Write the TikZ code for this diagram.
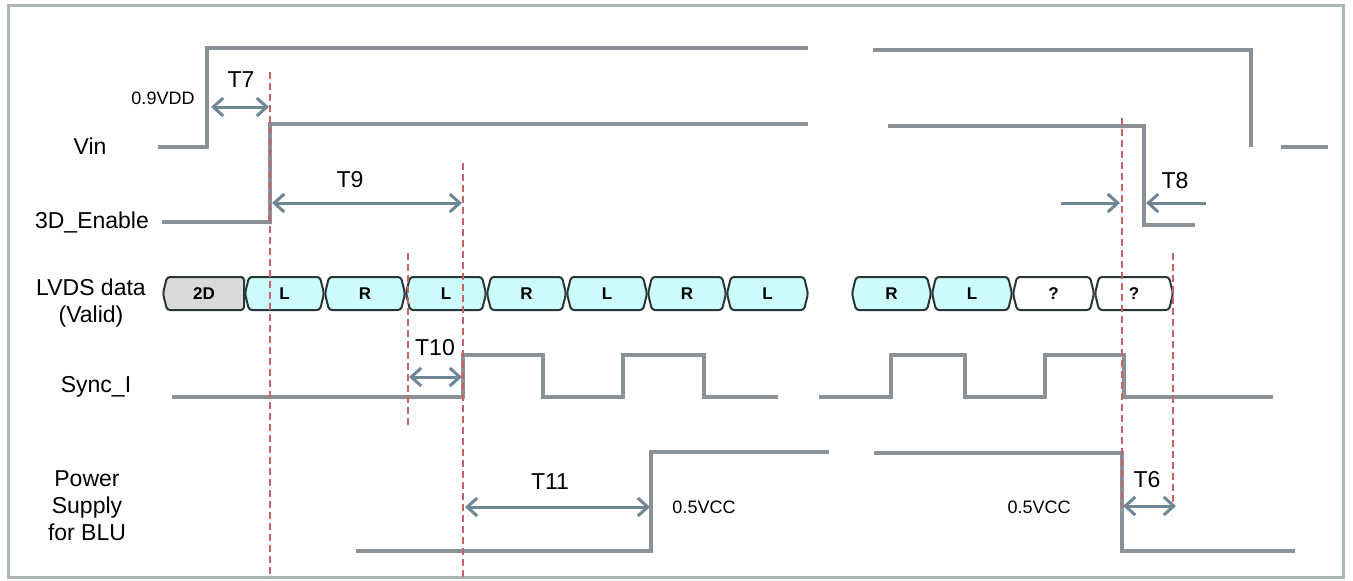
\documentclass[tikz,border=0pt]{standalone}
\usepackage{fontspec}
\setmainfont{Liberation Sans}
\usetikzlibrary{arrows.meta}
\definecolor{sig}{HTML}{8A9298}
\definecolor{arr}{HTML}{6F8694}
\definecolor{reddash}{HTML}{C46464}
\definecolor{framec}{HTML}{A9B6B6}
\definecolor{cyanfill}{HTML}{CCFCFC}
\definecolor{grayfill}{HTML}{DADADA}
\definecolor{boxline}{HTML}{2A3636}
\newcommand\mybusbox[5]{%
  \draw[busbox,fill=#3] ({#1+4},277) -- ({#2-4},277) -- (#2,293.5) -- ({#2-4},310) -- ({#1+4},310) -- (#1,293.5) -- cycle;
  \node[boxlbl] (#5) at ({(#1+#2)/2},294) {#4};}
\begin{document}
\begin{tikzpicture}[x=0.5pt,y=-0.5pt,
  sigline/.style={draw=sig,line width=2.1pt,line join=miter},
  dashline/.style={draw=reddash,line width=1.25pt,dash pattern=on 3.5pt off 2pt},
  dimarrow/.style={draw=arr,line width=1.5pt,{Straight Barb[length=5pt,width=9pt]}-{Straight Barb[length=5pt,width=9pt]}},
  onearrow/.style={draw=arr,line width=1.5pt,-{Straight Barb[length=5pt,width=9pt]}},
  lbl/.style={font=\fontsize{11.5}{13.5}\selectfont,inner sep=0pt,align=center},
  tlbl/.style={font=\fontsize{11.5}{13}\selectfont,inner sep=0pt},
  vlbl/.style={font=\fontsize{9}{10}\selectfont,inner sep=0pt},
  boxlbl/.style={font=\bfseries\fontsize{8.5}{10}\selectfont,inner sep=0pt},
  busbox/.style={draw=boxline,line width=1pt,rounded corners=1.5pt},
]
\useasboundingbox (0,0) rectangle (1353,580);
\fill[white] (0,0) rectangle (1353,580);
\draw[framec,line width=1.5pt] (8,5) rectangle (1343,577);

% signal names
\node[lbl] (nvin) at (90,146) {Vin};
\node[lbl] (nen) at (92,222) {3D\_Enable};
\node[lbl] (nlvds) at (91,303) {LVDS data\\(Valid)};
\node[lbl] (nsync) at (96,387) {Sync\_I};
\node[lbl] (npow) at (87,506) {Power\\Supply\\for BLU};

% Vin
\draw[sigline] (158,147) -- (207,147) -- (207,48) -- (808,48);
\draw[sigline] (873,50) -- (1251,50) -- (1251,147);
\draw[sigline] (1281,147) -- (1328,147);

% 3D_Enable
\draw[sigline] (162,222) -- (270,222) -- (270,124) -- (808,124);
\draw[sigline] (888,126) -- (1144,126) -- (1144,225) -- (1195,225);

% LVDS boxes
\draw[busbox,fill=grayfill] (167,277) -- (244,277) -- (244,310) -- (167,310) -- (163,293.5) -- cycle;
\node[boxlbl] (b1) at (204,294) {2D};
\mybusbox{245}{324}{cyanfill}{L}{b2}
\mybusbox{325}{405}{cyanfill}{R}{b3}
\mybusbox{406}{486}{cyanfill}{L}{b4}
\mybusbox{487}{566}{cyanfill}{R}{b5}
\mybusbox{567}{647}{cyanfill}{L}{b6}
\mybusbox{648}{726}{cyanfill}{R}{b7}
\mybusbox{727}{808}{cyanfill}{L}{b8}
\mybusbox{852}{931}{cyanfill}{R}{b9}
\mybusbox{932}{1012}{cyanfill}{L}{b10}
\mybusbox{1013}{1094}{white}{?}{b11}
\mybusbox{1095}{1173}{white}{?}{b12}

% Sync_I
\draw[sigline] (172,397) -- (463,397) -- (463,355) -- (543,355) -- (543,397) -- (623,397) -- (623,355) -- (704,355) -- (704,397) -- (778,397);
\draw[sigline] (819,397) -- (891,397) -- (891,355) -- (965,355) -- (965,397) -- (1045,397) -- (1045,355) -- (1124,355) -- (1124,397) -- (1273,397);

% Power supply
\draw[sigline] (356,551) -- (651,551) -- (651,452) -- (829,452);
\draw[sigline] (874,453) -- (1122,453) -- (1122,551) -- (1295,551);

% red dashed lines
\coordinate (d1a) at (270,72);   \coordinate (d1b) at (270,578);
\coordinate (d2a) at (463,163);  \coordinate (d2b) at (463,578);
\coordinate (d3a) at (408,253);  \coordinate (d3b) at (408,429);
\coordinate (d4a) at (1122,118); \coordinate (d4b) at (1122,506);
\coordinate (d5a) at (1173,253); \coordinate (d5b) at (1173,505);
\draw[dashline] (d1a) -- (d1b);
\draw[dashline] (d2a) -- (d2b);
\draw[dashline] (d3a) -- (d3b);
\draw[dashline] (d4a) -- (d4b);
\draw[dashline] (d5a) -- (d5b);

% timing arrows
\coordinate (t7a) at (211,107);  \coordinate (t7b) at (269,107);
\coordinate (t9a) at (272,203);  \coordinate (t9b) at (462,203);
\coordinate (t10a) at (409,377); \coordinate (t10b) at (462,377);
\coordinate (t11a) at (465,507); \coordinate (t11b) at (650,507);
\coordinate (t6a) at (1123,506); \coordinate (t6b) at (1176,506);
\coordinate (t8a) at (1061,203); \coordinate (t8b) at (1120,203);
\coordinate (t8c) at (1206,203); \coordinate (t8d) at (1146,203);
\draw[dimarrow] (t7a) -- (t7b);
\draw[dimarrow] (t9a) -- (t9b);
\draw[dimarrow] (t10a) -- (t10b);
\draw[dimarrow] (t11a) -- (t11b);
\draw[dimarrow] (t6a) -- (t6b);
\draw[onearrow] (t8a) -- (t8b);
\draw[onearrow] (t8c) -- (t8d);

% timing labels
\node[tlbl] (lt7) at (241,80) {T7};
\node[vlbl] (lvdd) at (163,98) {0.9VDD};
\node[tlbl] (lt9) at (350,180) {T9};
\node[tlbl] (lt10) at (435,348) {T10};
\node[tlbl] (lt11) at (550,482) {T11};
\node[vlbl] (lvcc1) at (704,507) {0.5VCC};
\node[vlbl] (lvcc2) at (1039,507) {0.5VCC};
\node[tlbl] (lt6) at (1147,480) {T6};
\node[tlbl] (lt8) at (1175,181) {T8};
\end{tikzpicture}
\end{document}
